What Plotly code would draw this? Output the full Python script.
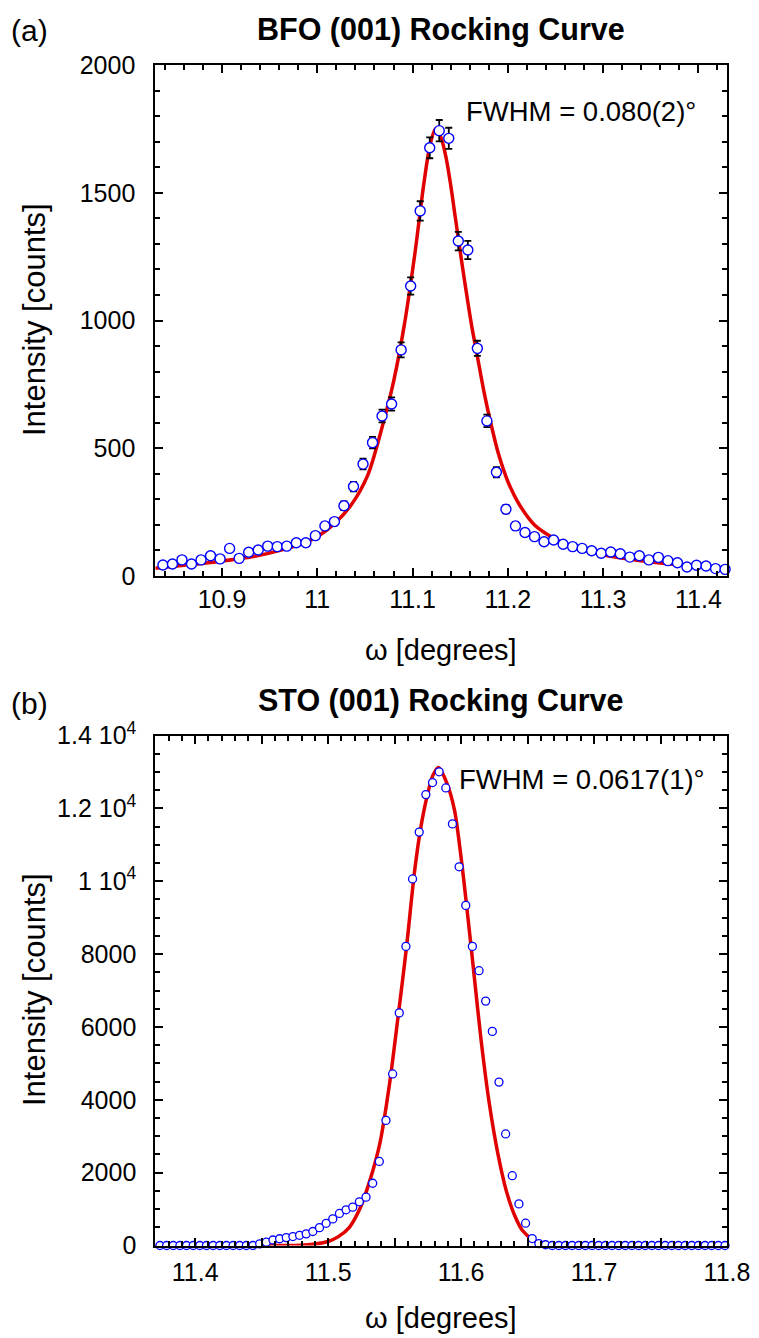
import plotly.graph_objects as go

FONT = "Liberation Sans, Arial, Helvetica, sans-serif"
RED = "#e00000"
BLUE = "#0000ff"
W, H = 759, 1338

# ---------------- Panel (a): BFO (001) rocking curve ----------------
bfo_omega = [10.838, 10.848, 10.858, 10.868, 10.878, 10.888, 10.898, 10.908, 10.918, 10.928,
             10.938, 10.948, 10.958, 10.968, 10.978, 10.988, 10.998, 11.008, 11.018, 11.028,
             11.038, 11.048, 11.058, 11.068, 11.078, 11.088, 11.098, 11.108, 11.118, 11.128,
             11.138, 11.148, 11.158, 11.168, 11.178, 11.188, 11.198, 11.208, 11.218, 11.228,
             11.238, 11.248, 11.258, 11.268, 11.278, 11.288, 11.298, 11.308, 11.318, 11.328,
             11.338, 11.348, 11.358, 11.368, 11.378, 11.388, 11.398, 11.408, 11.418, 11.428]
bfo_counts = [43, 47, 63, 47, 63, 79, 67, 108, 69, 93,
              102, 117, 115, 117, 130, 130, 158, 196, 213, 275,
              350, 438, 522, 626, 673, 885, 1135, 1429, 1676, 1743,
              1713, 1311, 1276, 891, 607, 406, 261, 196, 170, 154,
              134, 141, 124, 115, 108, 99, 89, 94, 87, 74,
              79, 63, 73, 60, 52, 35, 42, 39, 29, 26]
bfo_err = [6.6, 6.9, 7.9, 6.9, 7.9, 8.9, 8.2, 10.4, 8.3, 9.6,
           10.1, 10.8, 10.7, 10.8, 11.4, 11.4, 12.6, 14.0, 14.6, 16.6,
           18.7, 20.9, 22.8, 25.0, 25.9, 29.7, 33.7, 37.8, 40.9, 41.7,
           41.4, 36.2, 35.7, 29.8, 24.6, 20.1, 16.2, 14.0, 13.0, 12.4,
           11.6, 11.9, 11.1, 10.7, 10.4, 9.9, 9.4, 9.7, 9.3, 8.6,
           8.9, 7.9, 8.5, 7.7, 7.2, 5.9, 6.5, 6.2, 5.4, 5.1]
bfo_fit_omega = [10.830, 10.860, 10.895, 10.930, 10.965, 10.985, 11.000, 11.018, 11.035, 11.053,
                 11.070, 11.080, 11.091, 11.102, 11.112, 11.118, 11.124, 11.130, 11.135, 11.140,
                 11.145, 11.150, 11.156, 11.162, 11.168, 11.175, 11.182, 11.190, 11.200, 11.212,
                 11.228, 11.245, 11.263, 11.298, 11.333, 11.368, 11.400, 11.430]
bfo_fit = [30, 42, 56, 74, 104, 128, 154, 205, 275, 395,
           610, 760, 975, 1250, 1540, 1680, 1750, 1715, 1640, 1530,
           1400, 1270, 1120, 980, 860, 720, 600, 480, 370, 280,
           200, 155, 122, 84, 63, 48, 37, 30]
bfo_xticks = [10.9, 11.0, 11.1, 11.2, 11.3, 11.4]
bfo_xticktext = ["10.9", "11", "11.1", "11.2", "11.3", "11.4"]
bfo_yticks = [0, 500, 1000, 1500, 2000]
bfo_yticktext = ["0", "500", "1000", "1500", "2000"]

# ---------------- Panel (b): STO (001) rocking curve ----------------
sto_omega = [11.3735, 11.3785, 11.3835, 11.3885, 11.3935, 11.3985, 11.4035, 11.4085, 11.4135, 11.4185,
             11.4235, 11.4285, 11.4335, 11.4385, 11.4435, 11.4485, 11.4535, 11.4585, 11.4635, 11.4685,
             11.4735, 11.4785, 11.4835, 11.4885, 11.4935, 11.4985, 11.5035, 11.5085, 11.5135, 11.5185,
             11.5235, 11.5285, 11.5335, 11.5385, 11.5435, 11.5485, 11.5535, 11.5585, 11.5635, 11.5685,
             11.5735, 11.5785, 11.5835, 11.5885, 11.5935, 11.5985, 11.6035, 11.6085, 11.6135, 11.6185,
             11.6235, 11.6285, 11.6335, 11.6385, 11.6435, 11.6485, 11.6535, 11.6585, 11.6635, 11.6685,
             11.6735, 11.6785, 11.6835, 11.6885, 11.6935, 11.6985, 11.7035, 11.7085, 11.7135, 11.7185,
             11.7235, 11.7285, 11.7335, 11.7385, 11.7435, 11.7485, 11.7535, 11.7585, 11.7635, 11.7685,
             11.7735, 11.7785, 11.7835, 11.7885, 11.7935, 11.7985]
sto_counts = [0, 0, 0, 0, 0, 0, 0, 0, 0, 0,
              0, 0, 0, 0, 0, 45, 90, 151, 185, 217,
              245, 280, 320, 385, 490, 610, 730, 880, 980, 1053,
              1200, 1327, 1709, 2308, 3434, 4710, 6385, 8211, 10063, 11348,
              12377, 12709, 13003, 12561, 11573, 10395, 9336, 8211, 7543, 6709,
              5877, 4485, 3063, 1916, 1142, 612, 190, 52, 20, 0,
              0, 0, 0, 0, 0, 0, 0, 0, 0, 0,
              0, 0, 0, 0, 0, 0, 0, 0, 0, 0,
              0, 0, 0, 0, 0, 0]
sto_fit_omega = [11.370, 11.450, 11.480, 11.490, 11.500, 11.508, 11.516, 11.524, 11.531, 11.539,
                 11.546, 11.5525, 11.559, 11.565, 11.570, 11.575, 11.579, 11.583, 11.589, 11.595,
                 11.600, 11.605, 11.610, 11.615, 11.621, 11.6275, 11.634, 11.640, 11.646, 11.654,
                 11.662, 11.672, 11.800]
sto_fit = [0, 0, 5, 40, 110, 250, 500, 1020, 1740, 2820,
           4390, 6250, 8210, 10270, 11540, 12420, 12920, 13120, 12720, 11960,
           10650, 9050, 7350, 5650, 3950, 2550, 1500, 850, 420, 160,
           40, 0, 0]
sto_xticks = [11.4, 11.5, 11.6, 11.7, 11.8]
sto_xticktext = ["11.4", "11.5", "11.6", "11.7", "11.8"]
sto_xhalfticks = [11.45, 11.55, 11.65, 11.75]
sto_yticks = [0, 2000, 4000, 6000, 8000, 10000, 12000, 14000]
sto_yticktext = ["0", "2000", "4000", "6000", "8000",
                 "1 10<sup>4</sup>", "1.2 10<sup>4</sup>", "1.4 10<sup>4</sup>"]

fig = go.Figure()

fig.add_trace(go.Scatter(x=bfo_fit_omega, y=bfo_fit, mode="lines",
                         line=dict(color=RED, width=3.5, shape="spline", smoothing=0.8),
                         xaxis="x", yaxis="y", showlegend=False, hoverinfo="skip"))
fig.add_trace(go.Scatter(x=bfo_omega, y=bfo_counts, mode="markers",
                         marker=dict(symbol="circle", size=10, color="white",
                                     line=dict(color=BLUE, width=1.4)),
                         error_y=dict(type="data", array=bfo_err, color="black",
                                      thickness=1.8, width=3.5),
                         cliponaxis=False, xaxis="x", yaxis="y", showlegend=False))

fig.add_trace(go.Scatter(x=sto_fit_omega, y=sto_fit, mode="lines",
                         line=dict(color=RED, width=3.5, shape="spline", smoothing=0.8),
                         xaxis="x2", yaxis="y2", showlegend=False, hoverinfo="skip"))
fig.add_trace(go.Scatter(x=sto_omega, y=sto_counts, mode="markers",
                         marker=dict(symbol="circle", size=8, color="white",
                                     line=dict(color=BLUE, width=1.3)),
                         cliponaxis=False, xaxis="x2", yaxis="y2", showlegend=False))
# empty trace so the overlay axis carrying the unlabeled 0.05 ticks is drawn
fig.add_trace(go.Scatter(x=[], y=[], xaxis="x3", yaxis="y2", showlegend=False,
                         hoverinfo="skip"))

def px_x(p):
    return p / W

def px_y(p):
    return 1 - p / H

TICKFONT = dict(family=FONT, size=25, color="black")
common = dict(showline=True, linecolor="black", linewidth=2, mirror="ticks",
              ticks="inside", ticklen=8, tickwidth=2, tickcolor="black",
              showgrid=False, zeroline=False, tickfont=TICKFONT, tickmode="array",
              automargin=False)

def minor(t0, dt):
    return dict(tickmode="linear", tick0=t0, dtick=dt, ticks="inside",
                ticklen=5, tickwidth=2, tickcolor="black", showgrid=False)

XD = [px_x(155.3), px_x(727)]
fig.update_layout(
    template="none",
    width=W, height=H,
    margin=dict(l=0, r=0, t=0, b=0, pad=0),
    paper_bgcolor="white", plot_bgcolor="white",
    font=dict(family=FONT, color="black"),
    xaxis=dict(domain=XD, anchor="y", range=[10.83, 11.43],
               tickvals=bfo_xticks, ticktext=bfo_xticktext,
               minor=minor(10.9, 0.02), ticklabelstandoff=0, **common),
    yaxis=dict(domain=[px_y(576), px_y(65)], anchor="x", range=[0, 2000],
               tickvals=bfo_yticks, ticktext=bfo_yticktext,
               minor=minor(0, 100), ticklabelstandoff=13, **common),
    xaxis2=dict(domain=XD, anchor="y2", range=[11.37, 11.8],
                tickvals=sto_xticks, ticktext=sto_xticktext,
                minor=minor(11.4, 0.01), ticklabelstandoff=3, **common),
    xaxis3=dict(overlaying="x2", anchor="y2", side="bottom", range=[11.37, 11.8],
                tickmode="array", tickvals=sto_xhalfticks, showticklabels=False,
                ticks="inside", ticklen=8, tickwidth=2, tickcolor="black",
                showline=True, linecolor="black", linewidth=2, mirror="ticks",
                showgrid=False, zeroline=False, automargin=False),
    yaxis2=dict(domain=[px_y(1245.5), px_y(735.5)], anchor="x2", range=[0, 14000],
                tickvals=sto_yticks, ticktext=sto_yticktext,
                minor=minor(0, 500), ticklabelstandoff=12, **common),
)

def ann(text, x, y, size, bold=False, angle=0, xanchor="center"):
    if bold:
        text = "<b>" + text + "</b>"
    return dict(text=text, x=px_x(x), y=px_y(y), xref="paper", yref="paper",
                xanchor=xanchor, yanchor="middle", showarrow=False, textangle=angle,
                font=dict(family=FONT, size=size, color="black"))

fig.update_layout(annotations=[
    ann("(a)", 9, 31, 30, xanchor="left"),
    ann("BFO (001) Rocking Curve", 441, 30, 30.5, bold=True),
    ann("Intensity [counts]", 34, 320, 31, angle=-90),
    ann("ω [degrees]", 441, 650, 29),
    ann("FWHM = 0.080(2)°", 698, 111, 27.5, xanchor="right"),
    ann("(b)", 9, 703, 30, xanchor="left"),
    ann("STO (001) Rocking Curve", 441, 700, 30.5, bold=True),
    ann("Intensity [counts]", 34, 990, 31, angle=-90),
    ann("ω [degrees]", 441, 1318, 29),
    ann("FWHM = 0.0617(1)°", 707, 779, 27.5, xanchor="right"),
])

fig.write_html("out.html")
